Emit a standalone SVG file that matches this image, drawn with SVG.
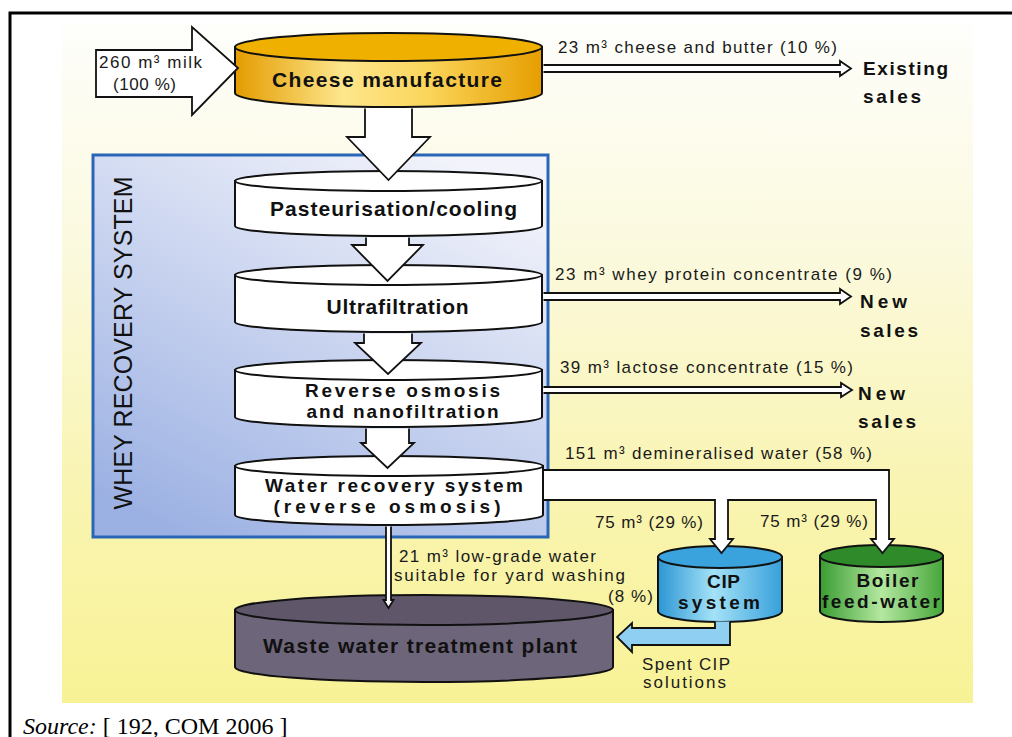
<svg xmlns="http://www.w3.org/2000/svg" width="1012" height="737" viewBox="0 0 1012 737">
<defs>
<linearGradient id="bg" x1="0" y1="0" x2="0" y2="1">
<stop offset="0" stop-color="#fefefc"/>
<stop offset="0.35" stop-color="#fbf9dc"/>
<stop offset="0.7" stop-color="#f9f4b0"/>
<stop offset="1" stop-color="#f8f296"/>
</linearGradient>
<linearGradient id="whey" x1="0.8" y1="0" x2="0.2" y2="1">
<stop offset="0" stop-color="#f3f4fb"/>
<stop offset="1" stop-color="#9cb1e3"/>
</linearGradient>
<linearGradient id="gold" x1="0" y1="0" x2="1" y2="0">
<stop offset="0" stop-color="#e49c00"/>
<stop offset="0.35" stop-color="#fde68c"/>
<stop offset="0.62" stop-color="#fbd65c"/>
<stop offset="1" stop-color="#e69e00"/>
</linearGradient>
<linearGradient id="cyan" x1="0" y1="0" x2="1" y2="0">
<stop offset="0" stop-color="#2c96d4"/>
<stop offset="0.45" stop-color="#a4e2f7"/>
<stop offset="1" stop-color="#37a0da"/>
</linearGradient>
<linearGradient id="green" x1="0" y1="0" x2="1" y2="0">
<stop offset="0" stop-color="#3a9c32"/>
<stop offset="0.5" stop-color="#b4e8a0"/>
<stop offset="1" stop-color="#46a63a"/>
</linearGradient>
<style>
.cyl{stroke:#111;stroke-width:2}
.arr{fill:#fff;stroke:#111;stroke-width:1.8;stroke-linejoin:miter}
.lbl{font-family:"Liberation Sans",Arial,sans-serif;font-size:17px;fill:#1a1a1a}
.nt{font-family:"Liberation Sans",Arial,sans-serif;font-size:21px;font-weight:bold;fill:#111;text-anchor:middle}
.nt2{font-family:"Liberation Sans",Arial,sans-serif;font-size:19px;font-weight:bold;fill:#111;text-anchor:middle}
.bt{font-family:"Liberation Sans",Arial,sans-serif;font-size:19px;font-weight:bold;fill:#111}
</style>
</defs>

<rect x="62" y="22" width="911" height="681" fill="url(#bg)"/>
<path d="M10,737 V13 H1012" fill="none" stroke="#000" stroke-width="3"/>

<g id="whey-recovery-system">
<rect x="93" y="155" width="455" height="382" fill="url(#whey)" stroke="#2a66b8" stroke-width="3"/>
<text transform="translate(132,343) rotate(-90)" font-family="'Liberation Sans',Arial,sans-serif" font-size="25" fill="#111" text-anchor="middle" textLength="333">WHEY RECOVERY SYSTEM</text>
</g>

<g id="cheese-manufacture">
<path class="cyl" d="M235,47 V93 A153.5,14 0 0 0 542,93 V47 Z" fill="url(#gold)"/>
<ellipse class="cyl" cx="388.5" cy="47" rx="153.5" ry="14" fill="#f0b000"/>
<text class="nt" x="387" y="87" textLength="230">Cheese manufacture</text>
</g>

<g id="milk-input">
<path class="arr" d="M96,50 H192 V27 L238,68 L192,115 V97 H96 Z"/>
<text class="lbl" x="99" y="68" textLength="103">260 m³ milk</text>
<text class="lbl" x="113" y="90" textLength="63">(100 %)</text>
</g>

<g id="pasteurisation">
<path class="cyl" d="M235,181 V226 A153.5,10 0 0 0 542,226 V181 Z" fill="#fff"/>
<ellipse class="cyl" cx="388.5" cy="181" rx="153.5" ry="10" fill="#fff"/>
<text class="nt" x="393.5" y="216" textLength="247">Pasteurisation/cooling</text>
</g>

<g id="ultrafiltration">
<path class="cyl" d="M235,275 V322 A153.5,10 0 0 0 542,322 V275 Z" fill="#fff"/>
<ellipse class="cyl" cx="388.5" cy="275" rx="153.5" ry="10" fill="#fff"/>
<text class="nt" x="397.5" y="314" textLength="142">Ultrafiltration</text>
</g>

<g id="reverse-osmosis">
<path class="cyl" d="M235,370 V417 A153.5,10 0 0 0 542,417 V370 Z" fill="#fff"/>
<ellipse class="cyl" cx="388.5" cy="370" rx="153.5" ry="10" fill="#fff"/>
<text class="nt2" x="402.5" y="397" textLength="195">Reverse osmosis</text>
<text class="nt2" x="402.5" y="418" textLength="192">and nanofiltration</text>
</g>

<g id="water-recovery">
<path class="cyl" d="M235,466 V515 A154,10 0 0 0 543,515 V466 Z" fill="#fff"/>
<ellipse class="cyl" cx="389" cy="466" rx="154" ry="10" fill="#fff"/>
<text class="nt2" x="394" y="492" textLength="258">Water recovery system</text>
<text class="nt2" x="387" y="513" textLength="227">(reverse osmosis)</text>
</g>

<g id="waste-water-plant">
<path class="cyl" d="M235,610 V667 A189,15 0 0 0 613,667 V610 Z" fill="#6d6579"/>
<ellipse class="cyl" cx="424" cy="610" rx="189" ry="15" fill="#5f566a"/>
<text class="nt" x="420" y="653" textLength="314">Waste water treatment plant</text>
</g>

<g id="cip-system">
<path class="cyl" d="M658,557 V611 A62,11 0 0 0 782,611 V557 Z" fill="url(#cyan)"/>
<ellipse class="cyl" cx="720" cy="557" rx="62" ry="11" fill="#3aa2dc"/>
<text class="nt2" x="723.5" y="588" textLength="33">CIP</text>
<text class="nt2" x="719" y="609" textLength="82">system</text>
</g>

<g id="boiler-feed-water">
<path class="cyl" d="M820,556 V611 A61.5,11 0 0 0 943,611 V556 Z" fill="url(#green)"/>
<ellipse class="cyl" cx="881.5" cy="556" rx="61.5" ry="11" fill="#2f8a2a"/>
<text class="nt2" x="887.5" y="587" textLength="62">Boiler</text>
<text class="nt2" x="881" y="608" textLength="118">feed-water</text>
</g>

<g id="sales-labels">
<text class="bt" x="863" y="75" textLength="85">Existing</text>
<text class="bt" x="863" y="103" textLength="58">sales</text>
<text class="bt" x="860" y="308" textLength="47">New</text>
<text class="bt" x="860" y="337" textLength="58">sales</text>
<text class="bt" x="858" y="400" textLength="47">New</text>
<text class="bt" x="858" y="428" textLength="58">sales</text>
</g>

<g id="connectors">
<path class="arr" d="M365,108.5 V137 H347 L388.5,180 L430,137 H412 V108.5"/>
<path class="arr" d="M366,237.5 V245 H352 L387.5,281 L423,245 H409 V237.5"/>
<path class="arr" d="M364,333.5 V343 H355 L388,374 L421,343 H412 V333.5"/>
<path class="arr" d="M366,428.5 V443 H361 L387.5,468 L414,443 H409 V428.5"/>

<path class="arr" stroke-width="1.5" d="M543.5,65 H840 V61 L851,68.5 L840,76 V72 H543.5"/>
<text class="lbl" x="558" y="53" textLength="279">23 m³ cheese and butter (10 %)</text>

<path class="arr" stroke-width="1.5" d="M543.5,293 H840 V289 L851,296.5 L840,304 V300 H543.5"/>
<text class="lbl" x="555" y="280" textLength="337">23 m³ whey protein concentrate (9 %)</text>

<path class="arr" stroke-width="1.5" d="M543.5,387 H841 V383 L852,390 L841,397 V393 H543.5"/>
<text class="lbl" x="560" y="373" textLength="293">39 m³ lactose concentrate (15 %)</text>

<path class="arr" stroke-width="1.6" d="M544,470 H889 V539 H894 L882.5,553 L871,539 H876 V500 H728 V539 H733 L721.5,553 L710,539 H715 V500 H544"/>
<text class="lbl" x="565" y="459" textLength="307">151 m³ demineralised water (58 %)</text>
<text class="lbl" x="595" y="528" textLength="108">75 m³ (29 %)</text>
<text class="lbl" x="760" y="527" textLength="108">75 m³ (29 %)</text>

<path class="arr" stroke-width="1.4" d="M386,526.5 V600 H383.5 L388.5,608 L393.5,600 H391 V526.5"/>
<text class="lbl" x="399" y="562" textLength="197">21 m³ low-grade water</text>
<text class="lbl" x="394" y="581" textLength="231">suitable for yard washing</text>
<text class="lbl" x="608" y="602" textLength="45">(8 %)</text>

<path class="arr" stroke-width="1.6" d="M730,621.5 V645 H632 V652 L617,637 L632,623 V628 H715 V621.5" style="fill:#8fd0f2"/>
<text class="lbl" x="642" y="670" textLength="88">Spent CIP</text>
<text class="lbl" x="643" y="688" textLength="83">solutions</text>
</g>

<text x="23" y="734" font-family="'Liberation Serif','Times New Roman',serif" font-size="24" fill="#000"><tspan font-style="italic">Source:</tspan> [ 192, COM 2006 ]</text>
</svg>
